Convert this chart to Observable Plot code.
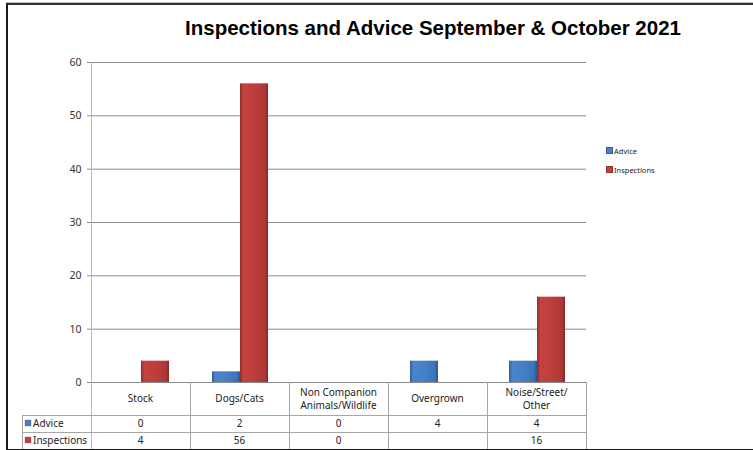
<!DOCTYPE html>
<html><head><meta charset="utf-8">
<script src="https://cdn.jsdelivr.net/npm/d3@7"></script>
<script src="https://cdn.jsdelivr.net/npm/@observablehq/plot@0.6"></script>
<style>
body{margin:0;background:#fff;}
#wrap{position:relative;width:753px;height:450px;overflow:hidden;background:#fff;font-family:"Noto Sans",sans-serif;}
#wrap svg.plot{position:absolute;left:0;top:0;}
#frame{position:absolute;left:6px;top:3px;width:760px;height:444px;border-left:2px solid #1a1a1a;border-top:2px solid #333;border-bottom:2px solid #1a1a1a;box-shadow:0 -1px 0 #bbb;pointer-events:none;}
#title{position:absolute;left:0;width:866px;top:16px;text-align:center;font:bold 20.5px "Liberation Sans",Arial,sans-serif;color:#000;white-space:nowrap;}
#legend{position:absolute;left:606px;top:142px;font-size:7.5px;color:#222;line-height:19px;}
#legend .sw{display:inline-block;width:5px;height:5px;margin-right:1px;vertical-align:0px;border:0.5px solid rgba(0,0,0,.25);}
</style></head>
<body>
<svg width="0" height="0" style="position:absolute">
  <defs>
    <linearGradient id="gAdvice" x1="0" x2="1" y1="0" y2="0">
      <stop offset="0" stop-color="#2f5e9e"/>
      <stop offset="0.12" stop-color="#4a84cc"/>
      <stop offset="0.5" stop-color="#4680c8"/>
      <stop offset="0.88" stop-color="#3c74ba"/>
      <stop offset="1" stop-color="#2a5592"/>
    </linearGradient>
    <linearGradient id="gInsp" x1="0" x2="1" y1="0" y2="0">
      <stop offset="0" stop-color="#8e2d2b"/>
      <stop offset="0.12" stop-color="#c4423f"/>
      <stop offset="0.5" stop-color="#bd3f3c"/>
      <stop offset="0.88" stop-color="#ad3835"/>
      <stop offset="1" stop-color="#862a28"/>
    </linearGradient>
  </defs>
</svg>
<div id="wrap"></div>
<script>
const chartTitle = "Inspections and Advice September & October 2021";
const categories = ["Stock", "Dogs/Cats", "Non Companion\nAnimals/Wildlife", "Overgrown", "Noise/Street/\nOther"];
const seriesNames = ["Advice", "Inspections"];
const adviceValues = [0, 2, 0, 4, 4];
const inspectionValues = [4, 56, 0, null, 16];
const seriesColors = ["#4a7fc4", "#c0423f"];
const seriesFills = ["url(#gAdvice)", "url(#gInsp)"];
const yTicks = [0, 10, 20, 30, 40, 50, 60];

const seriesValues = [adviceValues, inspectionValues];
const rows = [];
categories.forEach((c, i) => {
  seriesNames.forEach((s, j) => {
    const v = seriesValues[j][i];
    if (v != null) rows.push({cat: c, series: s, value: v});
  });
});

const wrap = document.getElementById("wrap");

const plot = Plot.plot({
  width: 753,
  height: 450,
  marginLeft: 90,
  marginRight: 167,
  marginTop: 62,
  marginBottom: 68,
  style: {fontFamily: "Noto Sans", fontSize: "10px", color: "#333", background: "transparent", overflow: "visible"},
  facet: {data: rows, x: "cat"},
  fx: {domain: categories, padding: 0, axis: null},
  x: {domain: seriesNames, paddingInner: 0, paddingOuter: 0.736, axis: null},
  y: {domain: [0, 60], ticks: yTicks, tickSize: 4, tickPadding: 6, label: null, tickFormat: d => String(d)},
  color: {domain: seriesNames, range: seriesFills},
  marks: [
    Plot.ruleY(yTicks, {stroke: "#8a8a8a", strokeWidth: 1}),
    Plot.barY(rows, {x: "series", y: "value", fill: "series", inset: 0})
  ]
});
plot.classList.add("plot");
wrap.appendChild(plot);

// style the y axis ticks grey, labels dark
plot.querySelectorAll('[aria-label^="y-axis"]').forEach(g => {
  if (g.getAttribute("stroke")) g.setAttribute("stroke", "#8a8a8a");
  g.querySelectorAll("line, path").forEach(l => { l.setAttribute("stroke", "#8a8a8a"); l.style.stroke = "#8a8a8a"; });
  g.querySelectorAll("text").forEach(t => { t.setAttribute("fill", "#333"); t.style.fontSize = "10.5px"; });
  if (g.querySelector("text")) { g.setAttribute("font-size", "10.5"); g.setAttribute("fill", "#333"); }
});

// data table under the chart, positioned with the plot's own scales
let fx = null, ys = null;
try { fx = plot.scale("fx"); } catch (e) {}
try { ys = plot.scale("y"); } catch (e) {}
const band = (fx && fx.apply) ? fx : null;
const fallbackBand = d3.scaleBand().domain(categories).range([90, 586]);
const colLeft = c => band ? band.apply(c) : fallbackBand(c);
const colW = band ? band.bandwidth : fallbackBand.bandwidth();
const yOf = v => ys && ys.apply ? ys.apply(v) : 382 - v * 320 / 60;

const top0 = yOf(0);
const y60 = yOf(60);
const axisX = colLeft(categories[0]);
const rightX = colLeft(categories[categories.length - 1]) + colW;
const headLeft = 22;
const r1 = top0 + 33, r2 = r1 + 17, r3 = r2 + 17;

const svg = d3.select(plot);
const g = svg.append("g").attr("font-family", "Noto Sans").attr("font-size", 10).attr("fill", "#222").attr("text-anchor", "start");
const lineColor = "#a6a6a6";
// axis line
g.append("line").attr("x1", axisX + 0.5).attr("x2", axisX + 0.5).attr("y1", y60).attr("y2", r3).attr("stroke", "#b8b8b8");
// horizontal lines
[r1, r2].forEach(y => g.append("line").attr("x1", headLeft).attr("x2", rightX).attr("y1", y + 0.5).attr("y2", y + 0.5).attr("stroke", lineColor));
g.append("line").attr("x1", headLeft + 0.5).attr("x2", headLeft + 0.5).attr("y1", r1).attr("y2", r3).attr("stroke", lineColor);
categories.forEach(c => {
  const x = colLeft(c) + colW;
  g.append("line").attr("x1", Math.round(x) + 0.5).attr("x2", Math.round(x) + 0.5).attr("y1", top0).attr("y2", r3).attr("stroke", lineColor);
});
// category labels
categories.forEach(c => {
  const lines = c.split("\n");
  const cx = colLeft(c) + colW / 2;
  const mid = (top0 + r1) / 2;
  const lh = 13;
  const t = g.append("text").attr("text-anchor", "middle");
  lines.forEach((ln, k) => {
    t.append("tspan").attr("x", cx).attr("y", mid + (k - (lines.length - 1) / 2) * lh).attr("dy", "0.35em").text(ln);
  });
});
// values rows
seriesNames.forEach((s, j) => {
  const yMid = j === 0 ? (r1 + r2) / 2 : (r2 + r3) / 2;
  g.append("rect").attr("x", headLeft + 3).attr("y", yMid - 3.5).attr("width", 6).attr("height", 6).attr("fill", seriesColors[j]).attr("stroke", "#555").attr("stroke-width", 0.3);
  g.append("text").attr("x", headLeft + 11).attr("y", yMid).attr("dy", "0.35em").attr("text-anchor", "start").text(s);
  categories.forEach((c, i) => {
    const v = seriesValues[j][i];
    if (v == null) return;
    g.append("text").attr("x", colLeft(c) + colW / 2).attr("y", yMid).attr("dy", "0.35em").attr("text-anchor", "middle").text(String(v));
  });
});

// title
const title = document.createElement("div");
title.id = "title";
title.textContent = chartTitle;
wrap.appendChild(title);

// legend
const legend = document.createElement("div");
legend.id = "legend";
seriesNames.forEach((s, j) => {
  const row = document.createElement("div");
  const sw = document.createElement("span");
  sw.className = "sw";
  sw.style.background = seriesColors[j];
  row.appendChild(sw);
  row.appendChild(document.createTextNode(s));
  legend.appendChild(row);
});
wrap.appendChild(legend);

// outer frame
const frame = document.createElement("div");
frame.id = "frame";
wrap.appendChild(frame);
</script>
</body></html>
